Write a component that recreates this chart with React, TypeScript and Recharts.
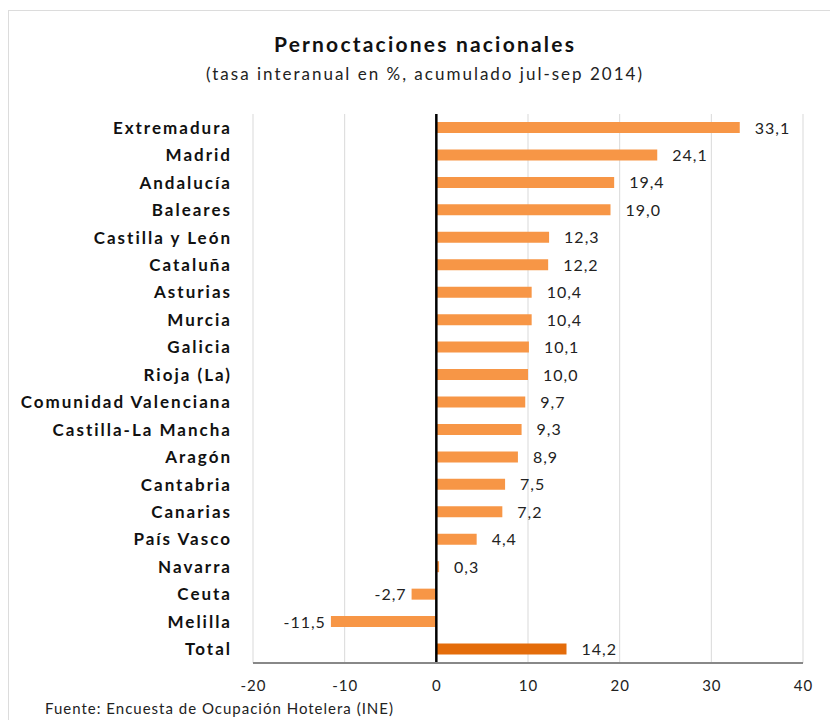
import React from 'react';
import { BarChart, Bar, XAxis, YAxis, CartesianGrid, ReferenceLine, LabelList, Cell } from 'recharts';

const regions = [
  'Extremadura', 'Madrid', 'Andalucía', 'Baleares', 'Castilla y León', 'Cataluña', 'Asturias',
  'Murcia', 'Galicia', 'Rioja (La)', 'Comunidad Valenciana', 'Castilla-La Mancha', 'Aragón',
  'Cantabria', 'Canarias', 'País Vasco', 'Navarra', 'Ceuta', 'Melilla', 'Total',
];
const rates = [33.1, 24.1, 19.4, 19.0, 12.3, 12.2, 10.4, 10.4, 10.1, 10.0, 9.7, 9.3, 8.9, 7.5, 7.2, 4.4, 0.3, -2.7, -11.5, 14.2];
const xTicks = [-20, -10, 0, 10, 20, 30, 40];

const FONT = 'Lato, "Open Sans", sans-serif';
const BAR = '#f79646';
const TOTAL = '#e46c0a';

const fmt = (v: number) => v.toFixed(1).replace('.', ',');

const data = regions.map((name, i) => ({ name, value: rates[i] }));

function CatTick(props: any) {
  const { x, y, payload } = props;
  return (
    <text x={x - 21} y={y} dy={6} textAnchor="end" fontFamily={FONT} fontWeight={700} fontSize={17} letterSpacing={2} fill="#111">
      {payload.value}
    </text>
  );
}

function NumTick(props: any) {
  const { x, y, payload } = props;
  return (
    <text x={x + 0.5} y={y} dy={28} textAnchor="middle" fontFamily={FONT} fontSize={15} letterSpacing={1} fill="#222">
      {payload.value}
    </text>
  );
}

function ValueLabel(props: any) {
  const { x, y, width, height, value } = props;
  const left = Math.min(x, x + width);
  const right = Math.max(x, x + width);
  const neg = value < 0;
  return (
    <text
      x={neg ? left - 5 : right + 15}
      y={y + height / 2}
      dy={6}
      textAnchor={neg ? 'end' : 'start'}
      fontFamily={FONT}
      fontSize={16}
      letterSpacing={1}
      fill="#222"
    >
      {fmt(value)}
    </text>
  );
}

export default function App() {
  return (
    <div style={{ position: 'absolute', left: 0, top: 0, width: 830, height: 720, background: '#fff', overflow: 'hidden' }}>
      <div style={{ position: 'absolute', left: 8, top: 10, width: 840, height: 730, border: '1px solid #dcdcdc' }} />
      <div style={{ position: 'absolute', left: 0, top: 31, width: 850, textAlign: 'center', fontFamily: FONT, fontWeight: 700, fontSize: 21, letterSpacing: 2.2, color: '#111' }}>
        Pernoctaciones nacionales
      </div>
      <div style={{ position: 'absolute', left: 0, top: 63, width: 850, textAlign: 'center', fontFamily: FONT, fontSize: 17, letterSpacing: 2, color: '#222' }}>
        (tasa interanual en %, acumulado jul-sep 2014)
      </div>
      <div style={{ position: 'absolute', left: 0, top: 0 }}>
        <BarChart
          width={830}
          height={720}
          data={data}
          layout="vertical"
          margin={{ top: 114, right: 27, bottom: 27, left: 0 }}
          barCategoryGap={0}
        >
          <CartesianGrid horizontal={false} stroke="#d9d9d9" />
          <XAxis
            type="number"
            domain={[-20, 40]}
            ticks={xTicks}
            interval={0}
            tickLine={false}
            tickSize={0}
            tickMargin={0}
            height={30}
            axisLine={{ stroke: '#888', strokeWidth: 2 }}
            tick={<NumTick />}
          />
          <YAxis
            type="category"
            dataKey="name"
            width={253}
            interval={0}
            tickLine={false}
            tickSize={0}
            tickMargin={0}
            axisLine={false}
            tick={<CatTick />}
          />
          <ReferenceLine x={0} stroke="#000" strokeWidth={2.5} />
          <Bar dataKey="value" barSize={11} isAnimationActive={false}>
            {data.map((d) => (
              <Cell key={d.name} fill={d.name === 'Total' ? TOTAL : BAR} />
            ))}
            <LabelList dataKey="value" content={<ValueLabel />} />
          </Bar>
        </BarChart>
      </div>
      <div style={{ position: 'absolute', left: 45, top: 699, fontFamily: FONT, fontSize: 15, letterSpacing: 1, color: '#222' }}>
        Fuente: Encuesta de Ocupación Hotelera (INE)
      </div>
    </div>
  );
}
